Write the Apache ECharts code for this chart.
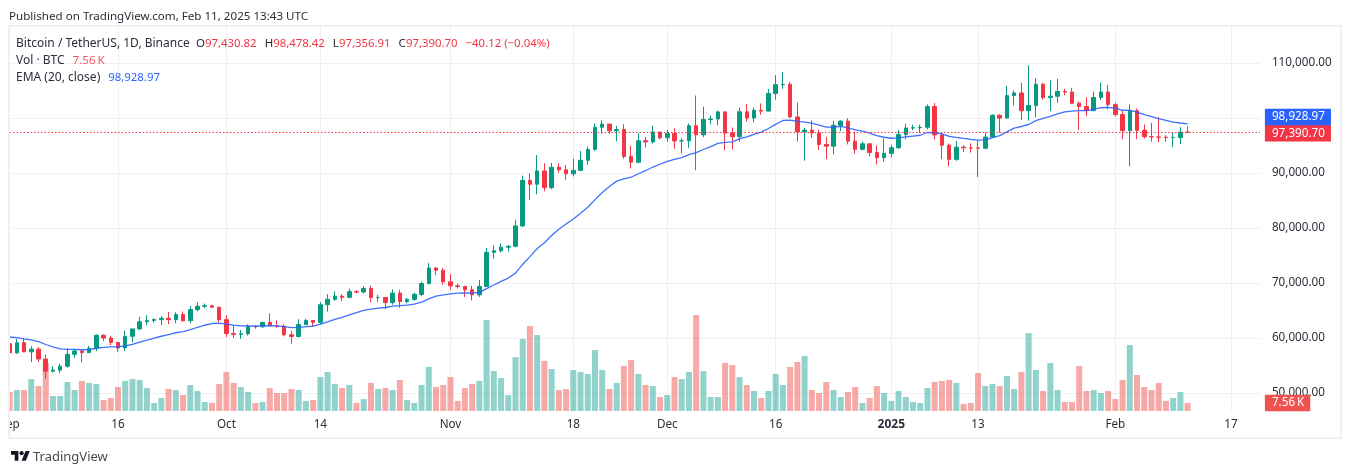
<!DOCTYPE html>
<html><head><meta charset="utf-8">
<style>html,body{margin:0;padding:0;background:#fff}#c{width:1352px;height:474px}</style>
<script src="https://cdn.jsdelivr.net/npm/echarts@6/dist/echarts.min.js"></script>
</head><body><div id="c"></div>
<script>
const categories = ["09-01","09-02","09-03","09-04","09-05","09-06","09-07","09-08","09-09","09-10","09-11","09-12","09-13","09-14","09-15","09-16","09-17","09-18","09-19","09-20","09-21","09-22","09-23","09-24","09-25","09-26","09-27","09-28","09-29","09-30",
"10-01","10-02","10-03","10-04","10-05","10-06","10-07","10-08","10-09","10-10","10-11","10-12","10-13","10-14","10-15","10-16","10-17","10-18","10-19","10-20","10-21","10-22","10-23","10-24","10-25","10-26","10-27","10-28","10-29","10-30","10-31",
"11-01","11-02","11-03","11-04","11-05","11-06","11-07","11-08","11-09","11-10","11-11","11-12","11-13","11-14","11-15","11-16","11-17","11-18","11-19","11-20","11-21","11-22","11-23","11-24","11-25","11-26","11-27","11-28","11-29","11-30",
"12-01","12-02","12-03","12-04","12-05","12-06","12-07","12-08","12-09","12-10","12-11","12-12","12-13","12-14","12-15","12-16","12-17","12-18","12-19","12-20","12-21","12-22","12-23","12-24","12-25","12-26","12-27","12-28","12-29","12-30","12-31",
"01-01","01-02","01-03","01-04","01-05","01-06","01-07","01-08","01-09","01-10","01-11","01-12","01-13","01-14","01-15","01-16","01-17","01-18","01-19","01-20","01-21","01-22","01-23","01-24","01-25","01-26","01-27","01-28","01-29","01-30","01-31",
"02-01","02-02","02-03","02-04","02-05","02-06","02-07","02-08","02-09","02-10","02-11","02-12","02-13","02-14","02-15","02-16","02-17","02-18","02-19","02-20","02-21"];

const opens = [58969,57301,59132,57487,57970,56180,53962,54160,54869,57042,57635,57339,58127,60498,60000,59182,58192,60308,61649,62940,63192,63348,63578,63339,64262,63152,65173,65769,65858,65602,
63327,60804,60649,60751,62086,62058,62819,62224,62131,60582,60274,62445,63193,62851,66046,67042,67612,67399,68418,68362,69001,67361,67368,66432,68161,66642,67014,67930,69907,72720,72339,
70215,69482,69358,68775,67850,69372,75571,75857,76509,76677,80370,88648,87952,90375,87325,91032,90587,89856,90465,92310,94286,98317,98892,97672,97900,93010,91965,95863,95643,97460,
96407,97185,95840,95849,98587,96945,99740,99831,101109,97276,96593,101125,100000,101417,101255,104463,106058,106133,100204,97461,97805,97291,95186,94877,98663,99429,95791,94299,95300,93738,92792,
93576,94591,96984,98174,98236,98314,102078,96922,95043,92484,94701,94566,94545,94516,96534,100505,99987,104078,104556,101331,102260,106143,103706,103960,104819,104714,102682,102087,101332,103733,104722,
102429,100635,97700,101328,97763,96612,96554,96506,96444,96462,97430.82];
const highs = [59076,59809,59809,58519,58327,57000,54850,55300,58088,58044,57981,58588,60670,60660,60396,59208,61320,61670,63850,64133,63550,64000,64745,64688,64817,65839,66498,66260,66076,65618,
64130,62390,61477,62484,62370,62975,64478,63200,62513,61320,63417,63480,63285,66500,67950,68424,67939,69000,68668,69400,69500,67836,67420,68850,68771,67317,68221,70270,73620,72905,72700,
71600,69914,69483,69500,70577,76400,76849,77199,76900,81500,89530,89940,93265,91790,91850,91779,91449,92594,94002,94831,98988,99588,98908,98564,98871,94973,97208,96564,98619,97463,
97836,98130,96305,99000,104088,102039,100439,101351,101215,98270,101895,102540,101895,102650,105250,107780,108353,106524,102800,98233,99540,97870,96538,99487,99569,99963,97544,95733,95340,95024,96250,
95151,97839,98976,98778,98813,102482,102724,97258,95349,95836,95050,95402,95893,97371,100681,100700,105865,104988,106422,109588,107240,106394,106850,107120,105286,105500,103000,103783,104800,106457,106012,
102783,101456,102500,101744,98826,99120,100137,96880,97323,98345,98478.42];
const lows = [57200,57120,57415,55606,55643,52550,53745,53653,54591,56386,55545,57324,57632,59465,58700,57493,57610,59218,61555,62350,62750,62357,62538,62700,62947,62670,64819,65422,65432,62856,
60164,60000,59828,60459,61689,61798,62128,61860,60300,58946,60087,62487,62044,62457,64800,66750,66666,67192,68105,68100,66518,66571,65260,66060,65523,66313,66800,67620,69730,71436,69685,
68779,69000,67458,66835,67476,69298,74416,75555,75714,76492,80216,85072,86127,86668,87073,90056,88722,89376,90400,91500,94040,97122,97136,95734,92600,90791,91792,94640,95364,96092,
95693,94395,93578,94587,90500,96514,98844,98657,94150,94256,95676,99311,99205,100609,101234,103333,105321,100000,95700,92232,96398,94202,92520,93383,97632,95199,93500,94135,93009,91530,92033,
92870,94392,96100,97781,97291,97926,96132,92525,91220,92206,93831,93711,89256,94310,96500,97300,99950,102277,99651,99550,100119,103339,101262,102750,104106,102520,97777,100333,101328,103278,101556,
100279,96150,91231,96150,96252,95676,95620,95688,94713,95256,97356.91];
const closes = [57301,59132,57487,57970,56180,53962,54160,54869,57042,57635,57339,58127,60498,60000,59182,58192,60308,61649,62940,63192,63348,63578,63339,64262,63152,65173,65769,65858,65602,63327,
60805,60649,60752,62086,62058,62819,62224,62131,60582,60274,62445,63193,62851,66046,67041,67612,67399,68418,68362,69001,67367,67368,66432,68161,66642,67014,67930,69907,72720,72339,70215,
69482,69358,68775,67850,69372,75571,75857,76509,76677,80370,88648,87952,90375,87325,91032,90587,89855,90464,92310,94286,98317,98892,97672,97901,93010,91966,95863,95643,97460,96407,
97185,95840,95849,98587,96945,99740,99831,101109,97276,96593,101125,100000,101417,101255,104463,106058,106133,100204,97461,97805,97291,95186,94881,98663,99429,95791,94299,95300,93738,92792,93576,
94591,96984,98174,98236,98314,102078,96922,95043,92484,94701,94566,94545,94516,96534,100505,99987,104077,104556,101331,102260,106143,103706,103960,104819,104714,102682,102087,101332,103733,104722,102429,
100635,97700,101328,97763,96612,96554,96506,96444,96462,97430,97390.70];
const volumes = [18,19.8,19.8,30.2,23.6,45.4,14.2,14.2,27.4,19.8,28.4,26.5,25.5,10.4,12.3,22.7,28.4,30.2,29.3,21.7,7.6,12.3,20.8,19.8,15.1,24.6,18.9,8.5,7.6,25.5,
36.9,26.5,22.7,18,7.6,8.5,21.7,17,17,20.8,19.8,9.5,10.4,32.1,36.9,25.5,21.7,24.6,7.6,11.3,26.5,20.8,21.7,19.8,29.3,10.4,7.6,24.6,41.6,22.7,24.6,
32.1,9.5,21.7,25.5,28.4,86,37.8,31.2,15.1,51,68,80.3,71.8,47.3,39.7,19.8,20.8,38.7,36.9,35,57.6,38.7,20.8,26.5,42.5,48.2,35,24.6,23.6,13.2,
15.1,32.1,30.2,36.9,90.7,37.8,13.2,13.2,45.4,43.5,32.1,24.6,18.9,12.3,18.9,35,24.6,41.6,46.3,52,19.8,17,27.4,19.8,13.2,18,22.7,7.6,12.3,23.6,17,
9.5,18.9,13.2,8.5,7.6,21.7,27.4,28.4,29.3,26.5,6.6,7.6,35.9,23.6,25.5,23.6,33.1,20.8,36.9,73.7,38.7,18.9,45.4,19.8,8.5,8.5,42.5,18.9,19.8,17,18.9,
11.3,29.3,62.4,34,22.7,19.8,26.5,9.5,12.3,18,7.56];
const ema20 = [60185,60085,59838,59660,59329,58818,58375,58041,57946,57916,57861,57886,58135,58313,58396,58377,58561,58855,59244,59620,59975,60318,60606,60954,61163,61545,61947,62319,62632,62698,
62518,62340,62189,62179,62167,62229,62229,62220,62064,61894,61946,62065,62140,62512,62943,63388,63770,64213,64608,65026,65249,65450,65544,65793,65874,65983,66168,66524,67114,67611,67859,
68014,68142,68202,68168,68283,68977,69632,70287,70895,71797,73401,74786,76270,77322,78627,79766,80726,81653,82668,83774,85158,86466,87533,88520,88947,89234,89865,90415,91086,91593,
92125,92479,92800,93351,93693,94269,94799,95400,95579,95676,96195,96557,97020,97423,98093,98851,99544,99607,99403,99251,99064,98695,98332,98364,98465,98210,97838,97596,97229,96807,96499,
96317,96381,96552,96712,96865,97361,97319,97102,96662,96475,96293,96121,95968,96022,96449,96786,97480,98154,98456,98818,99515,99914,100299,100729,101108,101258,101337,101337,101565,101866,101920,
101798,101408,101400,101054,100631,100243,99887,99559,99264,99089,98928.97];

const priceTicks = [50000,60000,70000,80000,90000,100000,110000];
const timeTicks = {"09-01":"Sep","09-16":"16","10-01":"Oct","10-14":"14","11-01":"Nov","11-18":"18","12-01":"Dec","12-16":"16","01-01":"2025","01-13":"13","02-01":"Feb","02-17":"17"};

const title1 = "Published on TradingView.com, Feb 11, 2025 13:43 UTC";
const symbolName = "Bitcoin / TetherUS, 1D, Binance";
const ohlcLabels = ["O","H","L","C"];
const ohlcValues = ["97,430.82","98,478.42","97,356.91","97,390.70"];
const changeText = "\u221240.12 (\u22120.04%)";
const volName = "Vol \u00b7 BTC", volText = "7.56\u2009K";
const emaName = "EMA (20, close)", emaText = "98,928.97";

const GREEN="#089981", RED="#F23645", BLUE="#2962FF", TXT="#2a2e39";
const FONT='"Noto Sans",sans-serif';
const fmt = v => v.toLocaleString("en-US",{minimumFractionDigits:2,maximumFractionDigits:2});
const last = closes.length-1;

const candleData = opens.map((o,i)=>[o,closes[i],lows[i],highs[i]]);
const volData = volumes.map((v,i)=>({value:v,itemStyle:{color:closes[i]>=opens[i]?"rgba(38,166,154,0.5)":"rgba(239,83,80,0.5)"}}));

const rs = (c,s) => ({fontFamily:FONT,fontSize:s,fontWeight:"normal",color:c});
const legendRich = {a:rs(TXT,12),n:rs(TXT,11.5),r:rs(RED,11.4),v:rs("#F7525F",11.6),b:rs(BLUE,11.4),s:{width:8,fontSize:11.4}};
const legendLine1 = "{a|"+symbolName+"  }"+ohlcLabels.map((l,i)=>"{n|"+l+"}{r|"+ohlcValues[i]+"}{s| }").join("")+"{r|"+changeText+"}";

const chart = echarts.init(document.getElementById("c"),null,{renderer:"canvas"});
chart.setOption({
  animation:false,
  backgroundColor:"#fff",
  title:[
    {text:title1,left:9,top:10.5,padding:0,textStyle:{fontFamily:FONT,fontSize:11.6,fontWeight:"normal",color:TXT}},
    {text:legendLine1,left:16,top:38,padding:0,textStyle:{rich:legendRich}},
    {text:"{a|"+volName+"}{s| }{v|"+volText+"}",left:16,top:55,padding:0,textStyle:{rich:legendRich}},
    {text:"{a|"+emaName+"}{s| }{b|"+emaText+"}",left:16,top:71.5,padding:0,textStyle:{rich:legendRich}},
    {text:"TradingView",left:33,top:451,padding:0,textStyle:{fontFamily:FONT,fontSize:13,fontWeight:"normal",color:"#4a4a4a"}}
  ],
  grid:{left:9.6,top:27,width:1250.3,height:384,containLabel:false,outerBoundsMode:"none"},
  xAxis:{type:"category",data:categories,boundaryGap:false,
    axisLine:{show:false},axisTick:{show:false},
    splitLine:{show:true,lineStyle:{color:"#f0f0f0",width:1},interval:(i,c)=>c in timeTicks&&i>0},
    axisLabel:{show:true,margin:8,fontFamily:FONT,fontSize:11.7,color:TXT,hideOverlap:false,
      interval:(i,c)=>c in timeTicks,
      formatter:c=>c==="01-01"?"{y|"+timeTicks[c]+"}":(timeTicks[c]||""),
      rich:{y:{fontFamily:FONT,fontSize:12,fontWeight:"bold",color:TXT}}}},
  yAxis:[
    {type:"value",position:"right",min:46727.27,max:116545.45,scale:true,
     axisLine:{show:false},axisTick:{show:false,customValues:priceTicks},
     splitLine:{show:true,lineStyle:{color:"#f0f0f0",width:1}},
     axisLabel:{customValues:priceTicks,margin:12,fontFamily:FONT,fontSize:11.7,color:TXT,formatter:v=>fmt(v)}},
    {type:"value",show:false,min:0,max:362.9,splitLine:{show:false}}
  ],
  series:[
    {type:"bar",name:"Vol",yAxisIndex:1,data:volData,barWidth:6,z:1,clip:true,
     markLine:{silent:true,symbol:"none",animation:false,lineStyle:{opacity:0},
       data:[{yAxis:volumes[last]}],
       label:{show:true,position:"end",distance:5,formatter:volText,color:"#fff",fontFamily:FONT,fontSize:11.7,opacity:1,backgroundColor:"#EF5350",padding:[2.5,6,2,7]}}},
    {type:"candlestick",name:"BTC",data:candleData,barWidth:4,z:2,clip:true,
     itemStyle:{color:GREEN,color0:RED,borderColor:GREEN,borderColor0:RED,borderWidth:1},
     markLine:{silent:true,symbol:"none",animation:false,lineStyle:{color:RED,type:[1.5,2],width:1.2},
       data:[{yAxis:closes[last]}],
       label:{show:true,position:"end",distance:5,offset:[0,0.9],formatter:fmt(closes[last]),color:"#fff",fontFamily:FONT,fontSize:11.7,backgroundColor:RED,padding:[2.5,6,2,7]}}},
    {type:"line",name:"EMA",data:ema20,showSymbol:false,symbol:"none",smooth:false,z:3,
     lineStyle:{color:BLUE,width:1.3,opacity:0.9},
     markLine:{silent:true,symbol:"none",animation:false,lineStyle:{opacity:0},
       data:[{yAxis:ema20[last]}],
       label:{show:true,position:"end",distance:5,offset:[0,-6.9],formatter:fmt(ema20[last]),color:"#fff",fontFamily:FONT,fontSize:11.7,opacity:1,backgroundColor:BLUE,padding:[2.5,6,2,7]}}}
  ],
  graphic:[
    {type:"rect",z:100,shape:{x:0,y:27,width:9,height:409},style:{fill:"#fff"}},
    {type:"rect",z:101,shape:{x:9,y:26,width:1332,height:412},style:{fill:"none",stroke:"#f0f0f0",lineWidth:2}},
    {type:"group",x:11,y:449,scaleX:0.53,scaleY:0.53,z:101,children:[
      {type:"polygon",shape:{points:[[0,4],[14,4],[14,22],[7,22],[7,11],[0,11]]},style:{fill:"#131722"}},
      {type:"polygon",shape:{points:[[27.5,4],[35.5,4],[28,22],[20,22]]},style:{fill:"#131722"}},
      {type:"circle",shape:{cx:20,cy:8,r:4},style:{fill:"#131722"}}
    ]}
  ]
});
</script></body></html>
